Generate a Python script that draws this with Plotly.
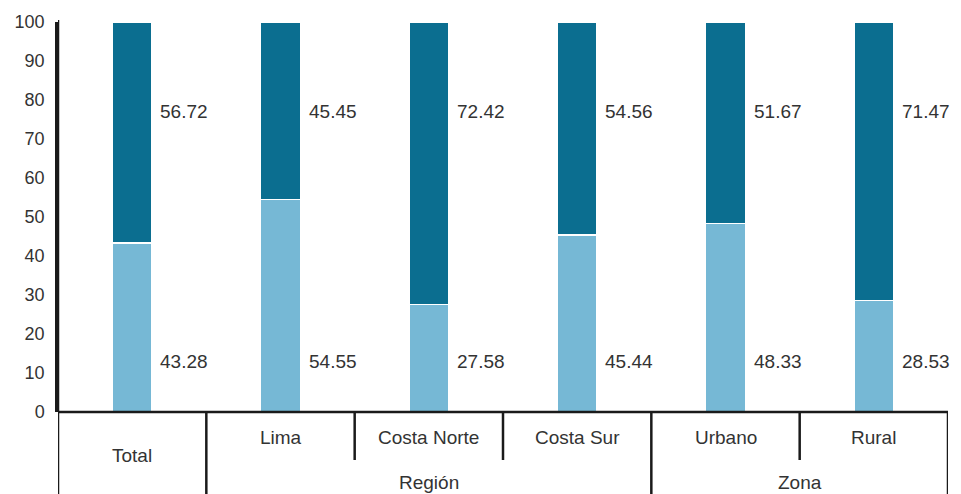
import plotly.graph_objects as go

categories = ["Total", "Lima", "Costa Norte", "Costa Sur", "Urbano", "Rural"]
bottom_values = [43.28, 54.55, 27.58, 45.44, 48.33, 28.53]
top_values = [56.72, 45.45, 72.42, 54.56, 51.67, 71.47]
groups = [("Región", 1, 3), ("Zona", 4, 5)]
y_ticks = list(range(0, 101, 10))

DARK = "#0b6e90"
LIGHT = "#76b8d5"
LINE = "#1a1a1a"
TXT = "#333333"
FONT = "Liberation Sans, Arial, sans-serif"

x = list(range(len(categories)))
fig = go.Figure()
fig.add_trace(go.Bar(x=x, y=bottom_values, marker=dict(color=LIGHT, line=dict(color="white", width=1.5)), width=0.27))
fig.add_trace(go.Bar(x=x, y=top_values, marker=dict(color=DARK, line=dict(color="white", width=1.5)), width=0.27))

ann = []
for i, (b, t) in enumerate(zip(bottom_values, top_values)):
    ann.append(dict(x=i, y=77, xref="x", yref="y", text=f"{t:.2f}", showarrow=False,
                    xanchor="left", xshift=26, font=dict(size=19, color=TXT)))
    ann.append(dict(x=i, y=13, xref="x", yref="y", text=f"{b:.2f}", showarrow=False,
                    xanchor="left", xshift=26, font=dict(size=19, color=TXT)))

H = 390.0
def py(px):
    return -px / H

shapes = []
shapes.append(dict(type="line", xref="x", yref="paper", x0=-0.5, x1=-0.5, y0=1.005, y1=py(84), line=dict(color=LINE, width=2.5)))
shapes.append(dict(type="line", xref="x", yref="paper", x0=5.5, x1=5.5, y0=0, y1=py(84), line=dict(color=LINE, width=2.5)))
shapes.append(dict(type="line", xref="x", yref="paper", x0=-0.5, x1=5.5, y0=0, y1=0, line=dict(color=LINE, width=2.5)))
for xb in [0.5, 3.5]:
    shapes.append(dict(type="line", xref="x", yref="paper", x0=xb, x1=xb, y0=0, y1=py(84), line=dict(color=LINE, width=2.5)))
for xb in [1.5, 2.5, 4.5]:
    shapes.append(dict(type="line", xref="x", yref="paper", x0=xb, x1=xb, y0=0, y1=py(48), line=dict(color=LINE, width=2.5)))

for i, c in enumerate(categories):
    yy = py(43) if i == 0 else py(25)
    ann.append(dict(x=i, y=yy, xref="x", yref="paper", text=c, showarrow=False,
                    font=dict(size=19, color=TXT), yanchor="middle"))
for name, a, b in groups:
    ann.append(dict(x=(a + b) / 2, y=py(70), xref="x", yref="paper", text=name, showarrow=False,
                    font=dict(size=19, color=TXT), yanchor="middle"))

fig.update_layout(
    width=953, height=486,
    barmode="stack", showlegend=False,
    plot_bgcolor="white", paper_bgcolor="white",
    margin=dict(l=50, r=13, t=14, b=82, autoexpand=False),
    font=dict(family=FONT, size=18, color=TXT),
    annotations=ann, shapes=shapes,
    xaxis=dict(range=[-0.5, 5.5], showticklabels=False, showgrid=False, zeroline=False, ticks="",
               showline=False, automargin=False),
    yaxis=dict(range=[0, 100], tickvals=y_ticks, showgrid=False, zeroline=False, showline=True,
               linecolor=LINE, linewidth=2.5, ticks="outside", ticklen=7, tickcolor="rgba(0,0,0,0)",
               tickfont=dict(size=18, color=TXT), automargin=False),
)
fig.write_html("out.html")
